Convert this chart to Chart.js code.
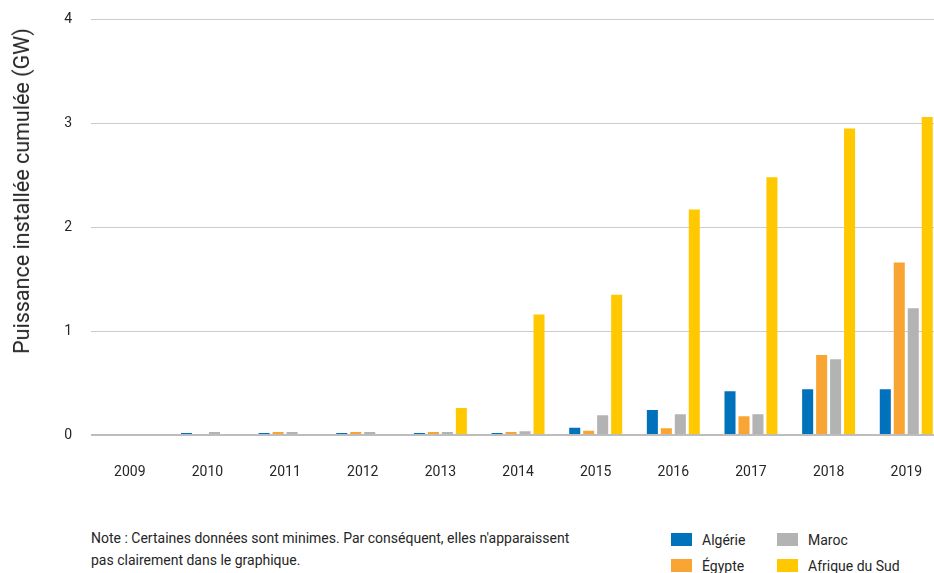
<!DOCTYPE html>
<html lang="fr">
<head>
<meta charset="utf-8">
<title>Puissance installée cumulée</title>
<script src="https://cdn.jsdelivr.net/npm/chart.js@4/dist/chart.umd.min.js"></script>
<style>
  html, body { margin: 0; padding: 0; background: #fff; }
  body { width: 934px; height: 573px; overflow: hidden; position: relative; font-family: Roboto, "Noto Sans", sans-serif; color: #262626; }
  #wrap { position: absolute; left: 0; top: -8px; width: 951px; height: 508px; }
  #ytitle { position: absolute; left: 22px; top: 191px; transform: translate(-50%, -50%) rotate(-90deg); font-size: 21.5px; line-height: 24px; white-space: nowrap; color: #262626; }
  #note { position: absolute; left: 91px; top: 527px; font-size: 14px; line-height: 22px; color: #262626; width: 520px; }
  .lg { position: absolute; font-size: 14px; line-height: 16px; color: #262626; white-space: nowrap; }
  .lg i { position: absolute; left: -31px; top: 1px; width: 21px; height: 13px; }
</style>
</head>
<body>
<div id="wrap"><canvas id="c"></canvas></div>
<div id="ytitle">Puissance installée cumulée (GW)</div>
<div id="note">Note : Certaines données sont minimes. Par conséquent, elles n'apparaissent<br>pas clairement dans le graphique.</div>
<div id="legend"></div>
<script>
// Years on the horizontal axis
const years = ['2009','2010','2011','2012','2013','2014','2015','2016','2017','2018','2019'];

// Cumulative installed capacity, GW
const algerie      = [0,    0.02, 0.02, 0.02, 0.02, 0.02, 0.07, 0.24,  0.42, 0.44, 0.44];
const egypte       = [0,    0.01, 0.03, 0.03, 0.03, 0.03, 0.04, 0.065, 0.18, 0.77, 1.66];
const maroc        = [0.01, 0.03, 0.03, 0.03, 0.03, 0.035,0.19, 0.20,  0.20, 0.73, 1.22];
const afriqueDuSud = [0,    0,    0,    0.01, 0.26, 1.16, 1.35, 2.17,  2.48, 2.95, 3.06];

// Country names and colours
const seriesNames  = ['Algérie', 'Égypte', 'Maroc', 'Afrique du Sud'];
const seriesColors = ['#0072bc', '#f9a533', '#b3b3b3', '#ffc800'];
const seriesValues = [algerie, egypte, maroc, afriqueDuSud];

// Vertical axis ticks
const yTicks = [0, 1, 2, 3, 4];

const datasets = seriesNames.map((name, i) => ({
  label: name,
  data: seriesValues[i],
  backgroundColor: seriesColors[i],
  borderWidth: 0,
  categoryPercentage: 0.72,
  barPercentage: 0.79
}));

new Chart(document.getElementById('c'), {
  type: 'bar',
  data: { labels: years, datasets },
  options: {
    responsive: true,
    maintainAspectRatio: false,
    animation: false,
    layout: { padding: { top: 11, right: 0, left: 0, bottom: 0 } },
    plugins: { legend: { display: false }, tooltip: { enabled: false } },
    scales: {
      x: {
        grid: { display: false, drawTicks: false },
        border: { display: false },
        ticks: { color: '#262626', font: { family: 'Roboto', size: 14 }, padding: 29, maxRotation: 0 },
        afterFit: s => { s.height = 65; }
      },
      y: {
        min: yTicks[0],
        max: yTicks[yTicks.length - 1],
        afterBuildTicks: s => { s.ticks = yTicks.map(v => ({ value: v })); },
        grid: {
          drawTicks: false,
          color: ctx => ctx.tick && ctx.tick.value === 0 ? '#bdbdbd' : '#cccccc',
          lineWidth: ctx => ctx.tick && ctx.tick.value === 0 ? 2 : 1
        },
        border: { display: false },
        ticks: { color: '#262626', font: { family: 'Roboto', size: 14 }, padding: 19 },
        afterFit: s => { s.width = 91; }
      }
    }
  }
});

// Legend in two columns below the plot
const legendPos = [[702, 532], [702, 558], [808, 532], [808, 558]];
const legend = document.getElementById('legend');
seriesNames.forEach((name, i) => {
  const d = document.createElement('div');
  d.className = 'lg';
  d.style.left = legendPos[i][0] + 'px';
  d.style.top = legendPos[i][1] + 'px';
  const sw = document.createElement('i');
  sw.style.background = seriesColors[i];
  d.appendChild(sw);
  d.appendChild(document.createTextNode(name));
  legend.appendChild(d);
});
</script>
</body>
</html>
